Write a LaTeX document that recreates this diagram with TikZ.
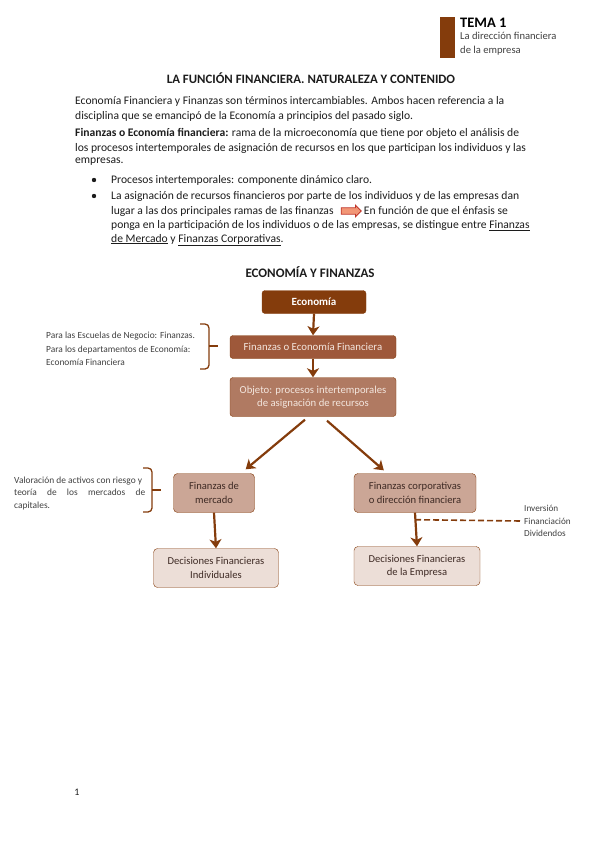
\documentclass[tikz,border=0pt]{standalone}
\usepackage{fontspec}
\setmainfont{Carlito}
\usetikzlibrary{positioning,arrows.meta,calc,shapes.arrows}
\definecolor{tema}{RGB}{132,60,12}
\definecolor{finb}{RGB}{158,88,58}
\definecolor{objb}{RGB}{176,122,98}
\definecolor{mercb}{RGB}{203,166,150}
\definecolor{decb}{RGB}{236,222,215}
\definecolor{lighttx}{RGB}{243,230,222}
\definecolor{darktx}{RGB}{62,42,36}
\definecolor{bodytx}{RGB}{28,28,28}
\definecolor{notetx}{RGB}{64,64,64}
\definecolor{arrfill}{RGB}{242,150,118}
\definecolor{arrdraw}{RGB}{192,52,40}

\begin{document}
\begin{tikzpicture}[
  x=1pt, y=-1pt,
  txt/.style={anchor=west, inner sep=0pt, text=bodytx, font=\fontsize{11.6}{15}\selectfont},
  note/.style={anchor=west, inner sep=0pt, text=notetx, align=left,
               font=\fontsize{9.4}{13.5}\selectfont},
  ebox/.style={draw=tema, fill=tema, text=white, rounded corners=3pt,
               font=\bfseries\fontsize{11}{12}\selectfont,
               minimum width=104pt, minimum height=23pt},
  fbox/.style={draw=tema, fill=finb, text=lighttx, rounded corners=3pt,
               font=\fontsize{10.8}{12}\selectfont,
               minimum width=166pt, minimum height=23pt},
  obox/.style={draw=tema, fill=objb, text=lighttx, rounded corners=3pt, align=center,
               font=\fontsize{10.7}{13.5}\selectfont,
               minimum width=166pt, minimum height=39pt},
  mbox/.style={draw=tema, fill=mercb, text=darktx, rounded corners=4pt, align=center,
               font=\fontsize{10.6}{13.5}\selectfont, minimum height=39pt},
  dbox/.style={draw=tema, fill=decb, text=darktx, rounded corners=4pt, align=center,
               font=\fontsize{10.6}{13.5}\selectfont, minimum height=39pt},
  arr/.style={-{Stealth[length=9pt,width=12pt,inset=2.5pt]}, line width=2.2pt, draw=tema},
  brc/.style={line width=1.3pt, draw=tema, rounded corners=4pt},
]
\useasboundingbox (0,0) rectangle (599,848);

% ---------- header ----------
\fill[tema] (440,17) rectangle (455,58);
\node[anchor=base west, inner sep=0pt, font=\bfseries\fontsize{14.5}{16}\selectfont]
  (tema) at (460,28) {TEMA 1};
\node[anchor=north west, inner sep=0pt, align=left, text=notetx,
      font=\fontsize{10.6}{14}\selectfont]
  (temasub) at (460,32) {La dirección financiera\\de la empresa};

\node[inner sep=0pt, font=\bfseries\fontsize{12.8}{14}\selectfont, text=bodytx]
  (titulo) at (311,78) {LA FUNCIÓN FINANCIERA. NATURALEZA Y CONTENIDO};

% ---------- body text ----------
\node[txt] (p1a) at (75,101)
  {Economía Financiera y Finanzas son términos intercambiables. Ambos hacen referencia a la};
\node[txt] (p1b) at (75,116)
  {disciplina que se emancipó de la Economía a principios del pasado siglo.};
\node[txt] (p2a) at (75,133)
  {\textbf{Finanzas o Economía financiera:} rama de la microeconomía que tiene por objeto el análisis de};
\node[txt] (p2b) at (75,148)
  {los procesos intertemporales de asignación de recursos en los que participan los individuos y las};
\node[txt] (p2c) at (75,162) {empresas.};

\fill[bodytx] (94,180) circle (2.2pt);
\fill[bodytx] (94,196) circle (2.2pt);
\node[txt] (b1) at (111,180) {Procesos intertemporales: componente dinámico claro.};
\node[txt] (b2a) at (111,196)
  {La asignación de recursos financieros por parte de los individuos y de las empresas dan};
\node[txt] (b2b) at (111,211) {lugar a las dos principales ramas de las finanzas};
\node[single arrow, draw=arrdraw, fill=arrfill, line width=0.8pt, inner xsep=0pt,
      inner ysep=2.8pt, minimum height=20pt, single arrow head extend=2.6pt,
      right=7pt of b2b]
  (flecha) {};
\node[txt] (b2c) at (flecha.east) {\,En función de que el énfasis se};
\node[txt] (b2d) at (111,226)
  {ponga en la participación de los individuos o de las empresas, se distingue entre \underline{Finanzas}};
\node[txt] (b2e) at (111,240)
  {\underline{de Mercado} y \underline{Finanzas Corporativas}.};

% ---------- diagram ----------
\node[font=\bfseries\fontsize{13}{14}\selectfont, text=bodytx, inner sep=0pt]
  (diagtit) at (310,272) {ECONOMÍA Y FINANZAS};

\node[ebox] (econ) at (314,302) {Economía};
\node[fbox] (finec) at (313,347) {Finanzas o Economía Financiera};
\node[obox] (objeto) at (313,397) {Objeto: procesos intertemporales\\de asignación de recursos};
\node[mbox, minimum width=81pt] (fmerc) at (214,493) {Finanzas de\\mercado};
\node[mbox, minimum width=122pt] (fcorp) at (415,493) {Finanzas corporativas\\o dirección financiera};
\node[dbox, minimum width=125pt] (dindiv) at (216,568) {Decisiones Financieras\\Individuales};
\node[dbox, minimum width=126pt] (demp) at (417,566) {Decisiones Financieras\\de la Empresa};

\draw[arr] (econ.south) -- (finec.north);
\draw[arr] (finec.south) -- (objeto.north);
\draw[arr] ($(objeto.south)+(-8,3)$) -- ($(fmerc.north east)+(-9,-4)$);
\draw[arr] ($(objeto.south)+(14,4)$) -- ($(fcorp.north west)+(30,-3)$);
\draw[arr] (fmerc.south) -- (dindiv.north);
\draw[arr] (fcorp.south) -- (demp.north);

% ---------- side notes ----------
\draw[brc] (200,324) -| (209,346) |- (200,369);
\draw[brc] (209,346) -- (218,346);
\node[note] (escuelas) at (46,349)
  {Para las Escuelas de Negocio: Finanzas.\\Para los departamentos de Economía:\\Economía Financiera};

\draw[brc] (143,468) -| (152,490) |- (143,512);
\draw[brc] (152,490) -- (161,490);
\node[note, align=left, font=\fontsize{9.4}{12.5}\selectfont] (valor) at (14,493)
  {Valoración de activos con riesgo y\\\makebox[131pt][s]{teoría de los mercados de}\\capitales.};

\node[note, font=\fontsize{9.2}{12.5}\selectfont] (decis) at (524,521)
  {Inversión\\Financiación\\Dividendos};
\draw[tema, line width=1.6pt, dash pattern=on 6pt off 3pt]
  ($(fcorp.south)+(0,7)$) -- ($(decis.west)+(-3,0)$);

% ---------- page number ----------
\node[inner sep=0pt, font=\fontsize{10}{11}\selectfont, text=bodytx] (pagina) at (77,792) {1};

\end{tikzpicture}
\end{document}
